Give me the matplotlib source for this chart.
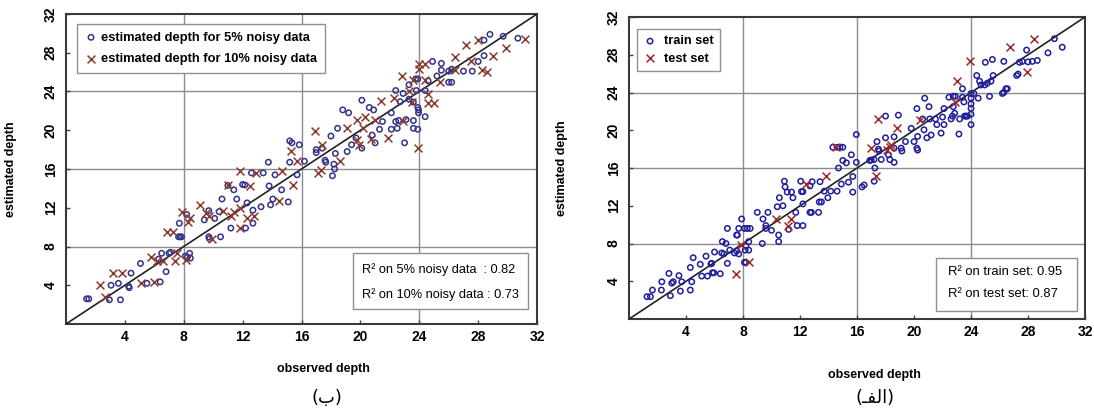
import numpy as np
import matplotlib
matplotlib.use('Agg')
import matplotlib.pyplot as plt
from matplotlib.patches import Rectangle

plt.rcParams['font.family'] = ['Liberation Sans', 'DejaVu Sans']

# ---- left panel (ب): noisy data ----
noise5 = [
    (1.4, 2.6), (1.55, 2.6), (2.95, 2.5), (3.7, 2.5), (3.06, 4.0), (3.56, 4.2), (4.42, 5.25), (4.26, 3.9),
    (4.3, 3.75), (5.06, 6.25), (5.5, 4.2), (6.4, 4.35), (6.8, 5.4), (6.5, 7.3), (6.3, 6.7), (7.0, 7.3),
    (7.1, 7.4), (7.7, 10.4), (7.65, 9.0), (7.75, 9.0), (7.85, 9.0), (8.1, 7.0), (8.25, 6.9), (8.45, 6.8),
    (8.4, 7.3), (8.2, 11.3), (9.4, 10.75), (9.7, 9.0), (9.75, 8.8), (10.1, 10.9), (9.7, 11.7), (10.5, 9.0),
    (10.4, 11.6), (10.6, 12.9), (11.0, 14.3), (11.4, 13.85), (11.2, 9.9), (11.6, 12.9), (12.0, 14.4),
    (12.15, 14.35), (12.3, 12.5), (12.7, 11.75), (12.7, 10.4), (12.2, 9.9), (12.6, 15.6), (13.4, 15.6),
    (13.25, 12.1), (13.75, 16.7), (13.9, 12.3), (14.05, 12.9), (13.8, 14.25), (14.2, 15.4), (14.65, 13.85),
    (15.1, 12.6), (15.2, 16.7), (15.2, 18.9), (15.35, 18.7), (15.85, 18.5), (15.7, 15.4),
    (16.2, 16.8), (17.0, 18.0), (17.0, 17.7), (17.4, 18.15), (17.6, 16.9), (17.65, 16.7), (18.3, 17.6),
    (18.2, 16.5), (18.25, 16.0), (18.1, 15.3), (18.0, 19.4), (18.45, 20.2), (18.8, 22.1), (19.2, 21.8),
    (19.1, 17.8), (19.4, 18.5), (19.7, 19.2), (20.1, 23.1), (20.1, 18.15), (20.6, 22.35), (20.9, 22.1),
    (20.8, 19.5), (21.0, 18.7), (21.3, 20.1), (21.5, 20.9), (22.1, 21.8), (22.1, 20.1), (22.4, 20.9),
    (22.5, 20.2), (22.6, 21.0), (22.4, 24.1), (22.9, 23.8), (22.7, 22.95), (23.1, 21.1), (23.0, 18.7),
    (23.3, 24.7), (23.3, 23.2), (23.6, 22.9), (23.6, 21.0), (23.6, 20.2), (23.8, 24.1), (23.9, 22.35),
    (23.95, 22.1), (23.95, 21.8), (23.9, 20.1), (23.75, 25.3), (23.9, 25.3), (24.4, 24.1), (24.4, 21.4),
    (24.6, 25.1), (24.9, 27.1), (25.2, 25.6), (25.5, 26.9), (25.5, 26.2), (26.0, 24.95), (26.2, 24.95),
    (26.0, 26.1), (26.2, 26.3), (27.0, 26.1), (27.6, 26.1), (28.0, 27.1), (28.4, 27.7), (28.8, 29.9),
    (29.7, 29.7), (30.7, 29.5), (28.4, 29.3),
]
noise10 = [
    (2.34, 4.05), (2.65, 2.8), (3.2, 5.25), (3.8, 5.25), (5.1, 4.2), (6.0, 4.35), (5.75, 6.9), (6.2, 6.5),
    (6.6, 6.5), (7.4, 6.5), (7.55, 7.3), (8.15, 6.6), (6.85, 9.45), (7.3, 9.45), (7.85, 11.6), (8.3, 10.5),
    (8.4, 10.9), (9.1, 12.25), (9.5, 11.45), (9.75, 11.1), (9.9, 8.75), (10.7, 11.7), (11.2, 11.2),
    (11.4, 11.6), (11.8, 12.0), (11.85, 9.95), (12.3, 10.9), (12.75, 11.2), (11.8, 15.8), (11.0, 14.3),
    (12.5, 14.2), (12.9, 15.6), (14.45, 12.7), (14.7, 15.8), (15.4, 14.35), (15.3, 17.9), (15.7, 16.85),
    (16.9, 19.9), (17.4, 18.5), (17.3, 15.9), (17.1, 15.6), (18.6, 16.85), (19.1, 20.25), (19.8, 21.1),
    (20.2, 20.2), (20.3, 21.4), (19.8, 19.0), (19.9, 18.5), (20.7, 19.1), (21.0, 21.1), (21.4, 23.0),
    (21.9, 19.2), (22.3, 23.3), (22.8, 25.6), (22.9, 21.0), (23.3, 24.1), (23.5, 22.95), (23.6, 25.2),
    (24.0, 26.3), (24.4, 25.2), (24.0, 26.8), (24.4, 26.85), (23.9, 18.2), (24.6, 23.7), (24.6, 22.8),
    (25.0, 22.8), (25.4, 25.0), (26.4, 27.6), (26.4, 26.2), (27.2, 28.8), (28.0, 29.3), (27.5, 27.1),
    (28.25, 26.25), (28.6, 26.05), (29.0, 27.7), (29.9, 28.5), (31.15, 29.4),
]

# ---- right panel (الف): train / test ----
train = [
    (1.26, 2.37), (1.5, 2.37), (1.64, 3.07), (2.27, 3.07), (2.3, 3.95), (2.9, 2.47), (2.8, 4.83), (3.1, 3.95),
    (3.0, 3.8), (3.5, 4.6), (3.6, 2.96), (3.7, 3.95), (4.3, 3.07), (4.4, 3.95), (4.3, 5.46), (4.5, 6.5),
    (5.0, 5.8), (5.1, 4.55), (5.5, 4.55), (5.4, 6.66), (5.8, 5.9), (5.75, 5.85), (5.85, 4.9), (5.95, 4.9),
    (6.0, 7.1), (6.4, 4.8), (6.5, 7.0), (6.65, 6.9), (6.55, 8.2), (6.8, 8.0), (6.9, 5.9), (6.9, 9.6),
    (7.07, 7.3), (7.4, 7.0), (7.55, 7.2), (7.7, 6.9), (7.6, 8.9), (7.55, 8.9), (7.7, 9.6), (7.9, 10.6),
    (8.1, 9.6), (8.3, 9.6), (8.5, 9.6), (8.1, 6.0), (8.2, 6.0), (8.2, 7.75), (8.15, 7.3), (8.4, 7.3),
    (8.4, 8.2), (9.35, 8.0), (9.0, 11.3), (9.4, 10.6), (9.6, 9.9), (9.6, 9.6), (9.75, 11.3), (10.0, 9.4),
    (10.5, 8.9), (10.5, 8.2), (10.4, 11.9), (10.55, 12.85), (10.8, 12.0), (10.9, 14.6), (10.95, 14.0),
    (11.1, 13.45), (11.4, 13.45), (11.5, 12.85), (11.2, 9.5), (11.7, 11.3), (11.8, 9.9), (12.2, 9.9),
    (12.05, 14.6), (12.2, 12.2), (12.1, 13.5), (12.2, 13.5), (12.7, 14.1), (12.85, 14.55), (12.7, 11.3),
    (12.8, 11.3), (13.3, 11.3), (13.35, 12.4), (13.5, 12.4), (13.4, 14.55), (13.7, 13.55), (13.95, 12.85),
    (14.15, 13.55), (14.3, 18.2), (14.6, 18.2), (14.8, 18.2), (15.0, 18.2), (14.7, 16.0), (14.6, 13.55),
    (14.9, 14.3), (15.0, 16.8), (15.25, 16.55), (15.4, 14.5), (15.6, 17.4), (15.7, 13.45), (15.7, 15.1),
    (15.95, 19.55), (15.95, 16.6),
    (16.5, 14.2), (16.35, 14.0), (17.2, 14.6), (17.25, 16.0), (17.2, 16.9), (16.9, 16.8), (17.0, 16.85),
    (17.4, 18.8), (17.5, 18.0), (17.55, 17.8), (17.7, 16.9), (18.0, 21.5), (18.0, 19.2), (18.2, 17.4),
    (18.3, 16.9), (18.6, 16.6), (18.6, 19.3), (18.6, 18.1), (18.9, 21.6), (19.1, 18.1), (19.15, 17.8),
    (19.4, 18.8), (19.8, 20.2), (20.0, 18.8), (20.2, 22.3), (20.2, 18.1), (20.25, 17.9), (20.25, 19.35),
    (20.6, 21.2), (20.75, 23.4), (20.7, 20.05), (20.9, 19.2), (21.05, 22.5), (21.2, 19.5), (21.1, 21.2),
    (21.5, 21.2), (21.6, 20.6), (21.9, 19.7), (22.0, 21.4), (22.1, 22.3), (22.1, 20.6), (22.45, 23.5),
    (22.6, 21.2), (22.7, 21.5), (22.75, 23.6), (22.9, 23.6), (22.75, 22.5), (22.85, 21.8), (23.15, 19.6),
    (23.2, 21.2), (23.4, 24.4), (23.4, 23.5), (23.5, 23.0), (23.55, 21.5), (23.65, 21.5), (23.75, 21.5),
    (24.0, 23.9), (24.0, 23.4), (24.0, 22.8), (24.0, 22.3), (24.0, 21.7), (24.0, 20.6), (24.2, 23.9),
    (24.4, 25.8), (24.5, 23.4), (24.6, 25.2), (24.7, 24.8), (24.97, 24.8), (25.15, 25.0), (25.0, 27.2),
    (25.3, 23.6), (25.4, 25.2), (25.5, 27.5), (25.55, 25.8), (26.3, 27.3), (26.2, 23.9), (26.3, 24.0),
    (26.45, 24.4), (26.55, 24.4), (27.2, 25.8), (27.3, 25.95), (27.4, 27.2), (27.6, 27.3), (28.0, 27.25),
    (28.3, 27.3), (28.65, 27.4), (27.9, 28.5), (29.4, 28.2), (29.85, 29.7), (30.4, 28.8),
]
test = [
    (7.5, 4.76), (8.4, 6.0), (7.84, 7.82), (10.3, 10.6), (11.4, 10.6), (11.15, 9.9), (12.4, 14.3),
    (13.85, 15.2), (14.55, 18.25), (17.3, 15.2), (17.0, 18.1), (17.5, 21.2), (18.1, 17.9), (18.3, 18.2),
    (18.4, 18.4), (18.8, 20.2), (20.4, 21.1), (22.85, 23.0), (23.0, 25.2), (23.9, 27.3), (26.7, 28.8),
    (27.9, 26.2), (28.45, 29.7),
]

ticks = [4, 8, 12, 16, 20, 24, 28, 32]
grid_at = [8, 16, 24]
left_r2 = ['R\u00b2 on 5% noisy data  : 0.82', 'R\u00b2 on 10% noisy data : 0.73']
right_r2 = ['R\u00b2 on train set: 0.95', 'R\u00b2 on test set: 0.87']
left_caption = '(\u0628)'
right_caption = '(\u0640\ufed4\ufedf\ufe8d)'   # الفـ in presentation forms (visual order)

fig = plt.figure(figsize=(10.94, 4.09), dpi=100)
axL = fig.add_axes([0.0603, 0.2078, 0.4306, 0.758])
axR = fig.add_axes([0.575, 0.22, 0.4168, 0.7384])


def style_axes(ax):
    ax.set_xlim(0, 32)
    ax.set_ylim(0, 32)
    ax.set_xticks(ticks)
    ax.set_yticks(ticks)
    for g in grid_at:
        ax.axvline(g, color='#8c8c8c', lw=1.0, zorder=0)
        ax.axhline(g, color='#8c8c8c', lw=1.0, zorder=0)
    ax.plot([0, 32], [0, 32], color='#222222', lw=1.2, zorder=3)
    ax.tick_params(direction='in', length=3, width=1, labelsize=10, pad=4, color='#444444')
    ax.tick_params(axis='y', pad=6)
    for lab in ax.get_xticklabels() + ax.get_yticklabels():
        lab.set_fontweight('bold')
    for lab in ax.get_yticklabels():
        lab.set_rotation(90)
        lab.set_va('center')
    for sp in ax.spines.values():
        sp.set_color('#3a3a3a')
        sp.set_linewidth(1.5)


# left panel
style_axes(axL)
x5, y5 = zip(*noise5)
x10, y10 = zip(*noise10)
axL.scatter(x5, y5, s=15, facecolors='none', edgecolors='#33338a', linewidths=1.1, zorder=4,
            label='estimated depth for 5% noisy data')
axL.scatter(x10, y10, s=32, marker='x', color='#8a3a30', linewidths=1.1, zorder=5,
            label='estimated depth for 10% noisy data')
leg = axL.legend(loc='upper left', bbox_to_anchor=(0.023, 0.968), fancybox=False, edgecolor='#909090',
                 framealpha=1, borderpad=0.6, handletextpad=0.3, labelspacing=0.75, handlelength=1.0,
                 borderaxespad=0, prop={'size': 9.3, 'weight': 'bold'})
leg.get_frame().set_linewidth(1.0)
axL.add_patch(Rectangle((0.609, 0.048), 0.372, 0.181, transform=axL.transAxes, fc='white',
                        ec='#909090', lw=1.0, zorder=6))
axL.text(0.628, 0.177, left_r2[0], transform=axL.transAxes, fontsize=9.2, va='center', zorder=7)
axL.text(0.628, 0.094, left_r2[1], transform=axL.transAxes, fontsize=9.2, va='center', zorder=7)
axL.set_xlabel('observed depth', fontsize=9, fontweight='bold')
axL.set_ylabel('estimated depth', fontsize=9, fontweight='bold')
axL.xaxis.set_label_coords(0.546, -0.126)
axL.yaxis.set_label_coords(-0.104, 0.5)

# right panel
style_axes(axR)
xtr, ytr = zip(*train)
xte, yte = zip(*test)
axR.scatter(xtr, ytr, s=15, facecolors='none', edgecolors='#1f1f9a', linewidths=1.1, zorder=4,
            label='train set')
axR.scatter(xte, yte, s=32, marker='x', color='#a02828', linewidths=1.1, zorder=5, label='test set')
leg = axR.legend(loc='upper left', bbox_to_anchor=(0.018, 0.96), fancybox=False, edgecolor='#909090',
                 framealpha=1, borderpad=0.5, handletextpad=0.6, labelspacing=0.4, handlelength=1.0,
                 borderaxespad=0, prop={'size': 9.2, 'weight': 'bold'})
leg.get_frame().set_linewidth(1.0)
axR.add_patch(Rectangle((0.673, 0.026), 0.309, 0.176, transform=axR.transAxes, fc='white',
                        ec='#909090', lw=1.0, zorder=6))
axR.text(0.70, 0.156, right_r2[0], transform=axR.transAxes, fontsize=9.4, va='center', zorder=7)
axR.text(0.70, 0.083, right_r2[1], transform=axR.transAxes, fontsize=9.4, va='center', zorder=7)
axR.set_xlabel('observed depth', fontsize=9, fontweight='bold')
axR.set_ylabel('estimated depth', fontsize=9, fontweight='bold')
axR.xaxis.set_label_coords(0.539, -0.166)
axR.yaxis.set_label_coords(-0.134, 0.5)

# captions
fig.text(327 / 1094, 1 - 398 / 409, left_caption, ha='center', va='center', fontsize=13,
         family=['DejaVu Sans'])
fig.text(875 / 1094, 1 - 398 / 409, right_caption, ha='center', va='center', fontsize=13,
         family=['DejaVu Sans'])

fig.savefig('out.png', dpi=100)
